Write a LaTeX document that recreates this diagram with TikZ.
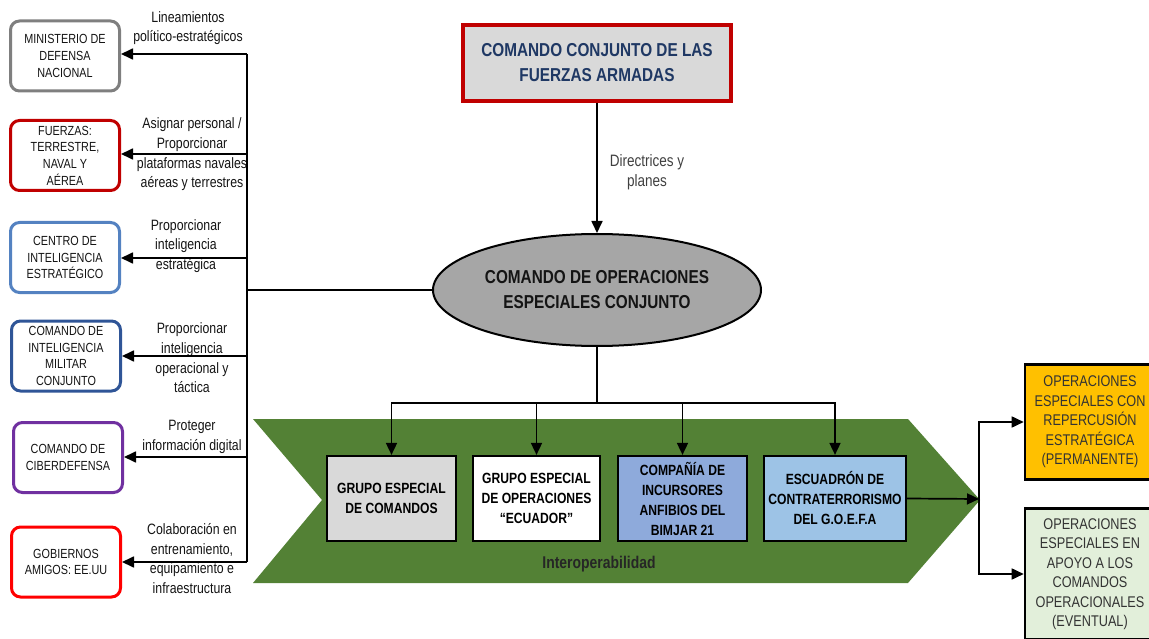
\documentclass[tikz,border=0pt]{standalone}
\usepackage{fontspec}
\setmainfont[FakeStretch=0.82]{Liberation Sans}
\usetikzlibrary{arrows.meta,positioning,shapes.geometric}
\definecolor{grisborde}{RGB}{127,127,127}
\definecolor{rojoosc}{RGB}{192,0,0}
\definecolor{azulmed}{RGB}{84,130,193}
\definecolor{azulosc}{RGB}{47,85,151}
\definecolor{morado}{RGB}{112,48,160}
\definecolor{rojo}{RGB}{255,0,0}
\definecolor{verde}{RGB}{83,129,53}
\definecolor{grisclaro}{RGB}{217,217,217}
\definecolor{grismed}{RGB}{166,166,166}
\definecolor{azultit}{RGB}{31,56,100}
\definecolor{azulcia}{RGB}{142,170,219}
\definecolor{celeste}{RGB}{157,195,230}
\definecolor{naranja}{RGB}{255,192,0}
\definecolor{verdeclaro}{RGB}{226,239,218}
\definecolor{texto}{RGB}{20,20,20}

\begin{document}
\begin{tikzpicture}[x=1pt,y=-1pt,>={Triangle[length=12pt,width=11pt]},line width=1.7pt,
  side node/.style={draw,rounded corners=9pt,line width=3pt,fill=white,text=texto,
    minimum width=109pt,minimum height=70pt,inner sep=1pt,align=center,
    font=\fontsize{13.2}{16.7}\selectfont},
  flow label/.style={align=center,text=texto,font=\fontsize{15}{19.7}\selectfont},
  unit node/.style={draw,line width=2.2pt,minimum height=85pt,inner sep=1pt,align=center,
    font=\fontsize{14.8}{20}\selectfont\bfseries},
  out node/.style={draw,line width=2.6pt,minimum width=130pt,inner sep=1pt,align=center,
    text=black!80,font=\fontsize{15.5}{19.5}\selectfont}]
\useasboundingbox (0,0) rectangle (1149,639);
%chevron
  \fill[verde] (253,419) -- (908,419) -- (980,500) -- (908,583) -- (253,583) -- (322,500) -- cycle;
%izquierda
  \node[side node,draw=grisborde] (mdn) at (65,56) {MINISTERIO DE\\DEFENSA\\NACIONAL};
  \node[side node,draw=rojoosc] (fzas) at (65,155.5) {FUERZAS:\\TERRESTRE,\\NAVAL Y\\AÉREA};
  \node[side node,draw=azulmed] (cie) at (65,257.5) {CENTRO DE\\INTELIGENCIA\\ESTRATÉGICO};
  \node[side node,draw=azulosc] (cimc) at (66,356) {COMANDO DE\\INTELIGENCIA\\MILITAR\\CONJUNTO};
  \node[side node,draw=morado] (cciber) at (68,457.5) {COMANDO DE\\CIBERDEFENSA};
  \node[side node,draw=rojo] (gob) at (66,562) {GOBIERNOS\\AMIGOS: EE.UU};
%centro
  \node[draw=rojoosc,line width=3.5pt,fill=grisclaro,text=azultit,minimum width=268pt,
    minimum height=76pt,align=center,font=\fontsize{18.7}{25}\selectfont\bfseries]
    (ccffaa) at (597,63) {COMANDO CONJUNTO DE LAS\\FUERZAS ARMADAS};
  \node[ellipse,draw,line width=2pt,fill=grismed,minimum width=328pt,minimum height=112pt,
    inner sep=0pt,align=center,text=texto,font=\fontsize{18.7}{25}\selectfont\bfseries]
    (coesc) at (597,290) {COMANDO DE OPERACIONES\\ESPECIALES CONJUNTO};
  \node[flow label,text=black!75,font=\fontsize{16.5}{19.5}\selectfont] (ldir) at (647,172) {Directrices y\\planes};
%unidades
  \node[unit node,fill=grisclaro,minimum width=129pt] (gec) at (391.5,498.5) {GRUPO ESPECIAL\\DE COMANDOS};
  \node[unit node,fill=white,minimum width=127pt] (geo) at (536.5,498.5) {GRUPO ESPECIAL\\DE OPERACIONES\\“ECUADOR”};
  \node[unit node,fill=azulcia,minimum width=129pt] (cia) at (682.5,498.5) {COMPAÑÍA DE\\INCURSORES\\ANFIBIOS DEL\\BIMJAR 21};
  \node[unit node,fill=celeste,minimum width=142pt] (esc) at (835,498.5) {ESCUADRÓN DE\\CONTRATERRORISMO\\DEL G.O.E.F.A};
  \node[font=\fontsize{17}{20}\selectfont\bfseries,text=black!85] (interop) at (599,564) {Interoperabilidad};
%derecha
  \node[out node,fill=naranja,minimum height=115pt] (oepe) at (1090,422)
    {OPERACIONES\\ESPECIALES CON\\REPERCUSIÓN\\ESTRATÉGICA\\(PERMANENTE)};
  \node[out node,fill=verdeclaro,minimum height=131pt] (oeap) at (1090,574)
    {OPERACIONES\\ESPECIALES EN\\APOYO A LOS\\COMANDOS\\OPERACIONALES\\(EVENTUAL)};
%etiquetas
  \node[flow label] (l1) at (188,28) {Lineamientos\\político-estratégicos};
  \node[flow label] (l2) at (192,154.5) {Asignar personal /\\Proporcionar\\plataformas navales\\aéreas y terrestres};
  \node[flow label] (l3) at (186,246) {Proporcionar\\inteligencia\\estratégica};
  \node[flow label] (l4) at (192,358) {Proporcionar\\inteligencia\\operacional y\\táctica};
  \node[flow label] (l5) at (192,437) {Proteger\\información digital};
  \node[flow label] (l6) at (192,558.5) {Colaboración en\\entrenamiento,\\equipamiento e\\infraestructura};
%paths
  \coordinate (b1) at (247,54);
  \coordinate (b6) at (247,562);
  \coordinate (bc) at (247,290);
  \coordinate (jn) at (597,403);
  \coordinate (tip) at (979,499);
  \draw (coesc.west) -- (bc);
  \draw (b1) -- (b6);
  \draw[->] (b1) -- (b1 -| mdn.east);
  \draw[->] (247,154) -- (fzas.east |- 0,154);
  \draw[->] (247,258) -- (cie.east |- 0,258);
  \draw[->] (247,356) -- (cimc.east |- 0,356);
  \draw[->] (247,457) -- (cciber.east |- 0,457);
  \draw[->] (b6) -- (b6 -| gob.east);
  \draw[->] (ccffaa) -- (coesc);
  \draw (coesc.south) -- (jn);
  \draw[->] (jn) -| (gec.north);
  \draw[->] (jn) -| (geo.north);
  \draw[->] (jn) -| (cia.north);
  \draw[->] (jn) -| (esc.north);
  \draw[->] (esc.east) -- (tip);
  \draw[->] (tip) |- (oepe.west);
  \draw[->] (tip) |- (oeap.west);
\end{tikzpicture}
\end{document}
